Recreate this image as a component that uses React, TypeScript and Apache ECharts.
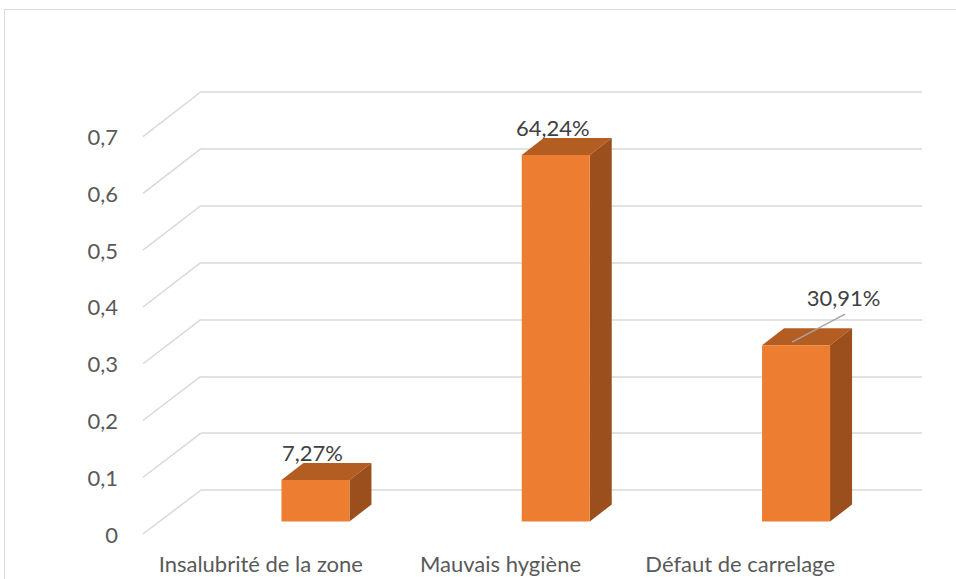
import React, { useEffect, useRef } from "react";
import * as echarts from "echarts";

const categories = ["Insalubrité de la zone", "Mauvais hygiène", "Défaut de carrelage"];
const values = [0.0727, 0.6424, 0.3091];
const valueLabels = ["7,27%", "64,24%", "30,91%"];
const yTicks = [0, 0.1, 0.2, 0.3, 0.4, 0.5, 0.6, 0.7];

const FONT = "Lato, 'Open Sans', sans-serif";
const FONT_SIZE = 22;
const GRID_COLOR = "#d9d9d9";
const AXIS_TEXT = "#595959";
const LABEL_TEXT = "#404040";
const FRONT = "#ed7d31";
const TOP = "#b45d22";
const SIDE = "#9a4f1c";
const DX = 22;
const DY = -17;

export default function App() {
  const ref = useRef<HTMLDivElement>(null);
  useEffect(() => {
    const chart = echarts.init(ref.current!, null, { renderer: "svg" });
    const fmt = (v: number) => String(Math.round(v * 10) / 10).replace(".", ",");
    chart.setOption({
      animation: false,
      backgroundColor: "#ffffff",
      graphic: [
        {
          type: "rect",
          silent: true,
          shape: { x: 4.5, y: 9.5, width: 1000, height: 1000 },
          style: { fill: "none", stroke: GRID_COLOR, lineWidth: 1 },
        },
      ],
      grid: [
        { left: 201, right: 34, top: 92, bottom: 89 },
        { left: 143, width: 58, top: 136.7, bottom: 45 },
        { left: 195.3, right: 39.8, top: 122.15, bottom: 57.5 },
        { left: 141, width: 719, top: 529, height: 6 },
      ],
      xAxis: [
        { gridIndex: 0, type: "category", data: categories, show: false },
        { gridIndex: 1, type: "value", min: 0, max: 1, show: false },
        { gridIndex: 2, type: "category", data: categories, show: false },
        {
          gridIndex: 3,
          type: "category",
          data: categories,
          axisLine: { show: false },
          axisTick: { show: false },
          axisLabel: { margin: 17, color: AXIS_TEXT, fontSize: FONT_SIZE, fontFamily: FONT, interval: 0 },
        },
      ],
      yAxis: [
        {
          gridIndex: 0,
          type: "value",
          min: 0,
          max: 0.7,
          interval: 0.1,
          axisLine: { show: false },
          axisTick: { show: false },
          axisLabel: { show: false },
          splitLine: { show: true, lineStyle: { color: GRID_COLOR, width: 1.5 } },
        },
        {
          gridIndex: 1,
          type: "value",
          min: 0,
          max: 0.7,
          interval: 0.1,
          axisLine: { show: false },
          axisTick: { show: false },
          splitLine: { show: false },
          axisLabel: { formatter: fmt, margin: 25, color: AXIS_TEXT, fontSize: FONT_SIZE, fontFamily: FONT },
        },
        { gridIndex: 2, type: "value", min: 0, max: 0.7, interval: 0.1, show: false },
        { gridIndex: 3, type: "value", show: false },
      ],
      series: [
        {
          type: "custom",
          xAxisIndex: 1,
          yAxisIndex: 1,
          silent: true,
          data: yTicks.map((v) => [0, v]),
          renderItem: (params: any, api: any) => {
            const v = api.value(1);
            const p = api.coord([0, v]);
            const q = api.coord([1, v]);
            return {
              type: "line",
              shape: { x1: p[0], y1: p[1], x2: q[0], y2: p[1] - 44 - v * 1.4 },
              style: { stroke: GRID_COLOR, lineWidth: 1.5 },
            };
          },
        },
        {
          type: "custom",
          xAxisIndex: 2,
          yAxisIndex: 2,
          data: values.map((v, i) => [i, v]),
          renderItem: (params: any, api: any) => {
            const idx = params.dataIndex;
            const top = api.coord([api.value(0), api.value(1)]);
            const base = api.coord([api.value(0), 0]);
            const w = api.size([1, 0])[0] * 0.283;
            const x0 = top[0] - w / 2;
            const x1 = top[0] + w / 2;
            const yT = top[1];
            const yB = base[1];
            const children: any[] = [
              {
                type: "polygon",
                shape: { points: [[x0, yT], [x0 + DX, yT + DY], [x1 + DX, yT + DY], [x1, yT]] },
                style: { fill: TOP },
              },
              {
                type: "polygon",
                shape: { points: [[x1, yT], [x1 + DX, yT + DY], [x1 + DX, yB + DY], [x1, yB]] },
                style: { fill: SIDE },
              },
              {
                type: "rect",
                shape: { x: x0, y: yT, width: w, height: yB - yT },
                style: { fill: FRONT },
              },
            ];
            let lx = top[0] - 3;
            let ly = yT + DY - 11;
            if (idx === 2) {
              lx = top[0] + 47.5;
              ly = yT + DY - 31;
              children.push({
                type: "line",
                shape: { x1: top[0] - 4, y1: yT - 3, x2: top[0] + 49, y2: yT - 31 },
                style: { stroke: "#a6a6a6", lineWidth: 1.5 },
              });
            }
            children.push({
              type: "text",
              x: lx,
              y: ly,
              style: {
                text: valueLabels[idx],
                fill: LABEL_TEXT,
                fontSize: FONT_SIZE,
                fontFamily: FONT,
                align: "center",
                verticalAlign: "middle",
              },
            });
            return { type: "group", children };
          },
        },
      ],
    });
    return () => chart.dispose();
  }, []);
  return (
    <div
      ref={ref}
      style={{ position: "absolute", left: 0, top: 0, width: 956, height: 579 }}
    />
  );
}
